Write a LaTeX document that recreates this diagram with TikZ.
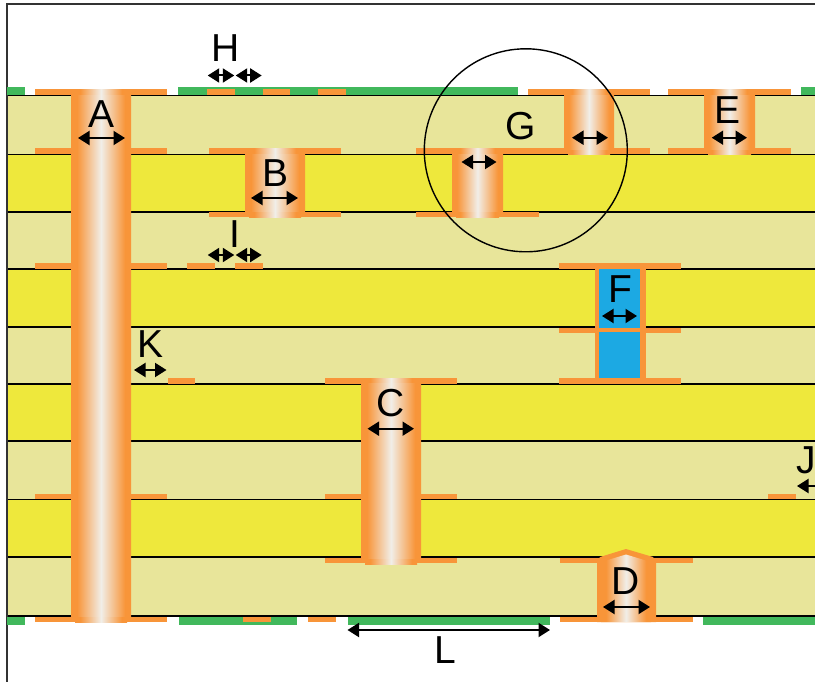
\documentclass[tikz,border=0pt]{standalone}
\usepackage{fontspec}
\setmainfont{Liberation Sans}
\usetikzlibrary{arrows.meta}
\definecolor{core}{HTML}{E8E59A}
\definecolor{prepreg}{HTML}{EEE83C}
\definecolor{copper}{HTML}{F89539}
\definecolor{mask}{HTML}{41B85C}
\definecolor{fillblue}{HTML}{1CA9E3}
\definecolor{barrel}{HTML}{F1EEE8}
\pgfdeclarehorizontalshading{viashade}{100bp}{color(0bp)=(copper); color(30bp)=(copper); color(50bp)=(barrel); color(70bp)=(copper); color(100bp)=(copper)}
\tikzset{>={Triangle[length=11.5pt,width=14pt]}}
\tikzset{
  lbl/.style={inner sep=0pt,font=\fontsize{39}{39}\selectfont},
  dim/.style={<->,line width=2pt},
  lay/.style={line width=1.4pt},
  pad/.style={fill=copper},
  solder/.style={fill=mask}
}

\begin{document}
\begin{tikzpicture}[x=1pt,y=-1pt]
  \useasboundingbox (0,0) rectangle (815,682);
  % Layers
  \foreach \ya/\yb/\col in {95.5/154.5/core,154.5/212/prepreg,212/269/core,269/327/prepreg,327/384/core,384/441/prepreg,441/499.5/core,499.5/557/prepreg,557/616/core}
    \fill[\col] (7,\ya) rectangle (815,\yb);
  \foreach \y in {95.5,154.5,212,269,327,384,441,499.5,557,616}
    \draw[lay] (7,\y) -- (815,\y);
  % Frame
  \draw[line width=1.3pt,black!80] (7,682) -- (7,4) -- (815,4);
  % Solder mask
  \foreach \xa/\xb in {7/25,177.5/518,801/815}
    \fill[solder] (\xa,87) rectangle (\xb,95);
  \foreach \xa/\xb in {7/25,179/297,347.5/550,702.5/815}
    \fill[solder] (\xa,617) rectangle (\xb,625);
  % Pads above a line
  \foreach \xa/\xb/\y in {35/167/95,207/235/95,262.5/290/95,318/346/95,528/650/95,668/790.5/95,
      35/167/154,208.5/341/154,416/539/154,528/650/154,668/790.5/154,
      35/167/269,187/215/269,235/263/269,558.5/681/269,
      167.5/195/383.5,325/457/383.5,558.5/681/383.5,
      35/167/499,325/457/499,768/796/499}
    \fill[pad] (\xa,\y-5.5) rectangle (\xb,\y);
  % Pads below a line
  \foreach \xa/\xb/\y in {208.5/341/212,416/539/212,558.5/681/327.5,
      325/457/557.5,560/692.5/557.5,
      35/167/616.5,243/270.5/616.5,308/336/616.5,560/692.5/616.5}
    \fill[pad] (\xa,\y) rectangle (\xb,\y+5.2);
  % Vias
  \foreach \xa/\xb/\ya/\yb in {71/131/90/622,245/305/149/217.5,361/421/378/564,452/503/149/217.5,564/614/90/155,704/755/90/155}{
    \shade[shading=viashade] (\xa+4,\ya) rectangle (\xb-4,\yb);
    \shade[shading=viashade] (\xa,\ya+5.5) rectangle (\xb,\yb-5.5);
  }
  % Dimple via
  \fill[copper] (597,622) -- (597,562) -- (600,557) -- (626,549) -- (653,557) -- (656,562) -- (656,622) -- cycle;
  \shade[shading=viashade] (601,622) -- (601,562) -- (626,554.5) -- (651,562) -- (651,622) -- cycle;
  % Filled via
  \fill[copper] (594.5,264) rectangle (645.5,383);
  \fill[fillblue] (599,269) rectangle (640,327.5);
  \fill[fillblue] (599,332) rectangle (640,378);
  % Dimensions
  \foreach \name/\xa/\xb/\y in {A/78/125/138,B/251/298/198,C/367.5/414/428.7,D/603/650/607,
      E/711.7/747/137.7,F/602/637/316,Ga/461.5/496.5/162,Gb/572/608/137.7,
      Ha/207.7/234.3/75.5,Hb/235.7/261.7/75.5,Ia/207.7/234.3/255,Ib/235.7/261.7/255,
      J/797/835/486,K/134/166.5/370,L/347.5/550/630}{
    \coordinate (\name-l) at (\xa,\y);
    \coordinate (\name-r) at (\xb,\y);
    \draw[dim] (\name-l) -- (\name-r);
  }
  % Labels
  \foreach \name/\x/\y in {A/102/114,B/275.5/173.5,C/390.5/403,D/626/581,E/728/110.5,F/620.5/289.5,
      G/520.5/126,H/225.5/48,I/235/234.5,J/806.5/460,K/151/344,L/445.5/650}
    \node[lbl] (lbl\name) at (\x,\y) {\name};
  % Detail circle
  \coordinate (Gc) at (525.8,150.3);
  \draw[line width=1.4pt] (Gc) circle (101.5);
\end{tikzpicture}
\end{document}
